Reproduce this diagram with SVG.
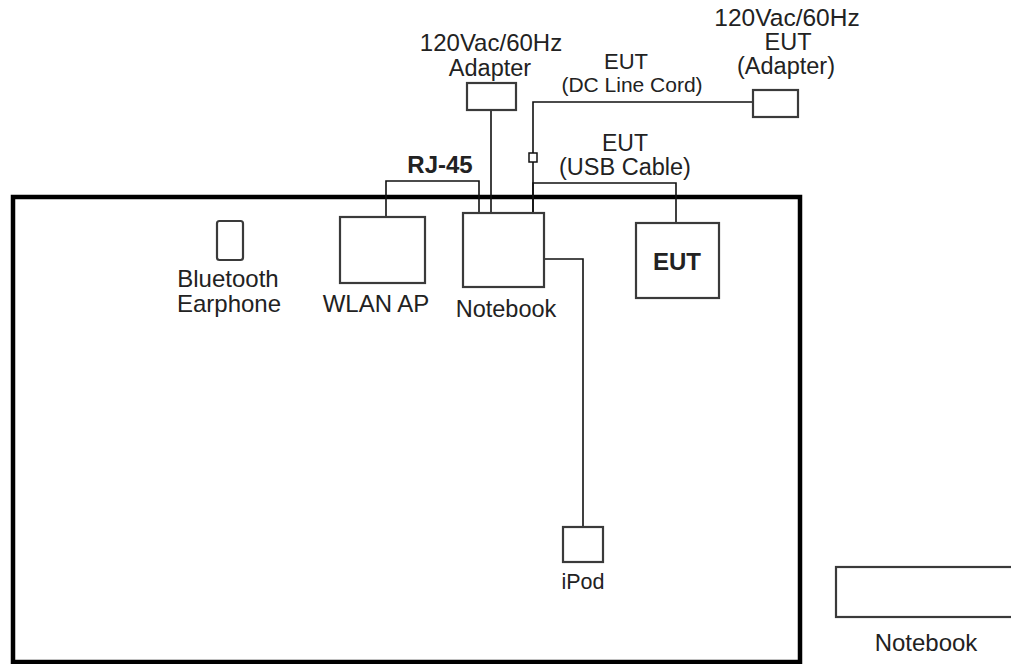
<svg xmlns="http://www.w3.org/2000/svg" width="1011" height="664" viewBox="0 0 1011 664">
<style>
.box{fill:#fff;stroke:#3a3a3a;stroke-width:2.2}
.wire{fill:none;stroke:#111;stroke-width:1.6}
.t{font-family:"Liberation Sans",Arial,sans-serif;fill:#222;text-anchor:middle}
.b{font-weight:bold}
</style>
<rect width="1011" height="664" fill="#fff"/>
<g id="room"><rect x="13" y="197" width="787" height="465" fill="none" stroke="#000" stroke-width="4.5"/></g>
<g id="connectors">
<polyline class="wire" points="386,217 386,181 479,181 479,213"/>
<polyline class="wire" points="491,110 491,213"/>
<polyline class="wire" points="753,102 533,102 533,213"/>
<rect x="529" y="153" width="8" height="9" fill="#fff" stroke="#111" stroke-width="1.5"/>
<polyline class="wire" points="533,213 533,183 676,183 676,223"/>
<polyline class="wire" points="544,259 583,259 583,527"/>
</g>
<g id="rj45-label"><text class="t b" x="440" y="173" font-size="24">RJ-45</text></g>
<g id="adapter">
<rect class="box" x="467" y="83" width="49" height="27"/>
<text class="t" x="491" y="51" font-size="24">120Vac/60Hz</text>
<text class="t" x="490" y="76" font-size="23.5">Adapter</text>
</g>
<g id="eut-adapter">
<rect class="box" x="753" y="90" width="45" height="27"/>
<text class="t" x="787" y="26" font-size="24.5">120Vac/60Hz</text>
<text class="t" x="788" y="50" font-size="23.5">EUT</text>
<text class="t" x="786" y="74" font-size="23.5">(Adapter)</text>
</g>
<g id="dc-label">
<text class="t" x="626" y="69" font-size="22">EUT</text>
<text class="t" x="632" y="92" font-size="21">(DC Line Cord)</text>
</g>
<g id="usb-label">
<text class="t" x="625" y="151" font-size="23">EUT</text>
<text class="t" x="625" y="175" font-size="23.5">(USB Cable)</text>
</g>
<g id="bluetooth">
<rect class="box" x="217" y="221" width="26" height="39" rx="2.5"/>
<text class="t" x="228" y="287" font-size="24">Bluetooth</text>
<text class="t" x="229" y="312" font-size="24">Earphone</text>
</g>
<g id="wlan">
<rect class="box" x="340" y="217" width="85" height="66"/>
<text class="t" x="376" y="312" font-size="24">WLAN AP</text>
</g>
<g id="notebook">
<rect class="box" x="463" y="213" width="81" height="74"/>
<text class="t" x="506" y="317" font-size="23.5">Notebook</text>
</g>
<g id="eut">
<rect class="box" x="636" y="223" width="83" height="75"/>
<text class="t b" x="677" y="270" font-size="24">EUT</text>
</g>
<g id="ipod">
<rect class="box" x="563" y="527" width="40" height="35"/>
<text class="t" x="583" y="589" font-size="21.5">iPod</text>
</g>
<g id="notebook2">
<rect class="box" x="836" y="567" width="190" height="50"/>
<text class="t" x="926" y="651" font-size="24">Notebook</text>
</g>
</svg>
